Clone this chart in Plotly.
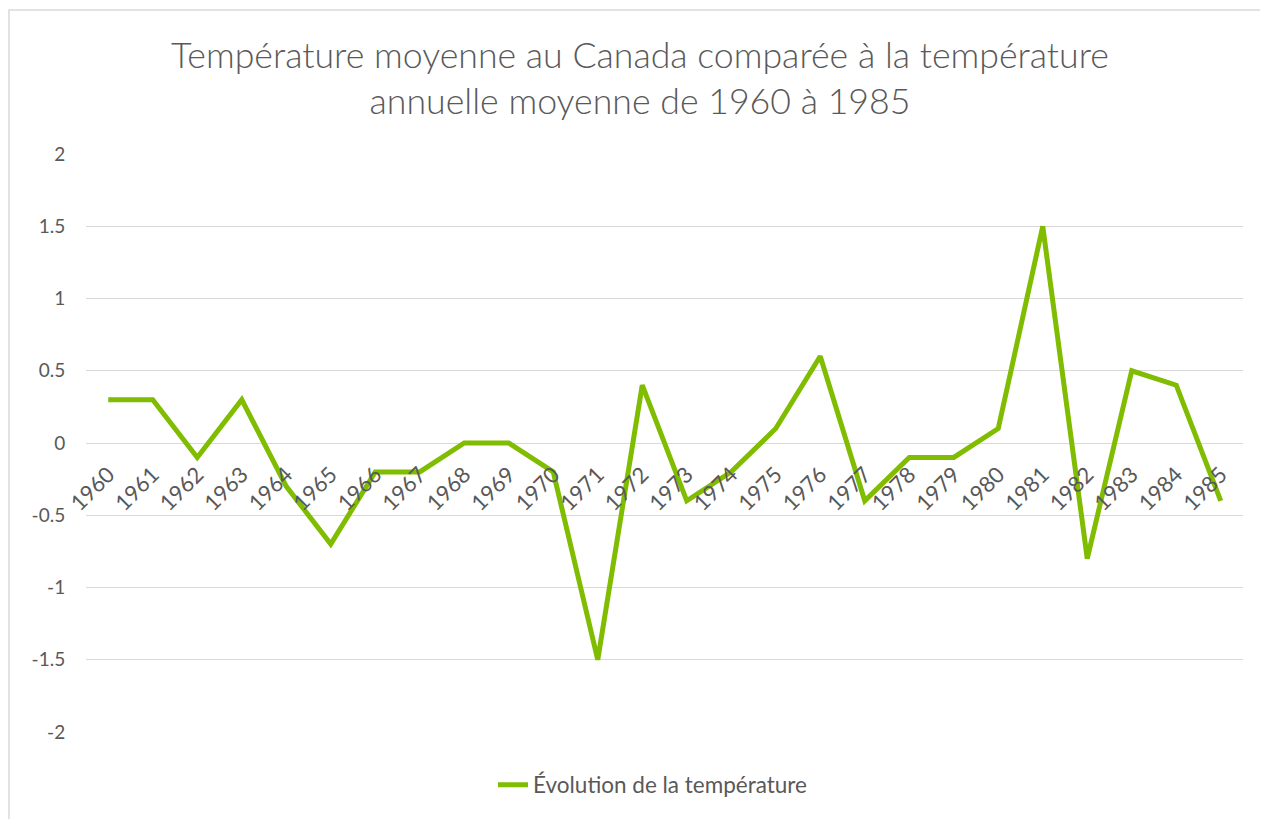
import plotly.graph_objects as go

years = [str(y) for y in range(1960, 1986)]
temps = [0.3, 0.3, -0.1, 0.3, -0.3, -0.7, -0.2, -0.2, 0.0, 0.0, -0.2, -1.5, 0.4,
         -0.4, -0.2, 0.1, 0.6, -0.4, -0.1, -0.1, 0.1, 1.5, -0.8, 0.5, 0.4, -0.4]
y_tickvals = [-2, -1.5, -1, -0.5, 0, 0.5, 1, 1.5, 2]
y_ticktext = ["-2", "-1.5", "-1", "-0.5", "0", "0.5", "1", "1.5", "2"]
series_name = "Évolution de la température"
title_text = "Température moyenne au Canada comparée à la température<br>annuelle moyenne de 1960 à 1985"

# page body adds an 8px offset; figure coordinates below are screen - 8
W, H = 1260, 811
L, T = 78, 146
plot_w, plot_h = 1157, 578
R = W - L - plot_w
B = H - T - plot_h
OFF = 8

text_color = "#595959"
grid_color = "#D9D9D9"
line_color = "#80BC00"
font_family = "Lato, 'Open Sans', sans-serif"

fig = go.Figure()
fig.add_trace(go.Scatter(
    x=years, y=temps, mode="lines", name=series_name,
    line=dict(color=line_color, width=5),
    showlegend=True,
))

fig.update_layout(
    width=W, height=H,
    margin=dict(l=L, r=R, t=T, b=B),
    paper_bgcolor="white", plot_bgcolor="white",
    font=dict(family=font_family, color=text_color, size=19),
    title=dict(
        text=title_text,
        x=(640 - OFF) / W, xanchor="center", xref="container",
        y=1 - 60 / H, yanchor="top", yref="container",
        font=dict(size=35.7, color=text_color, family=font_family, weight=300),
    ),
    legend=dict(
        orientation="h", x=(653 - OFF - L) / plot_w, xanchor="center",
        y=(T + plot_h - (785 - OFF)) / plot_h, yanchor="middle",
        font=dict(size=22.5, color=text_color),
        bgcolor="rgba(0,0,0,0)",
    ),
    xaxis=dict(
        type="category",
        categoryorder="array", categoryarray=years,
        range=[-0.5, len(years) - 0.5],
        anchor="free", position=0.5,
        showgrid=False, zeroline=False, showline=False,
        ticks="outside", ticklen=9, tickcolor="rgba(0,0,0,0)",
        tickangle=-45,
        tickfont=dict(size=22, color=text_color),
    ),
    yaxis=dict(
        range=[-2, 2],
        tickvals=y_tickvals, ticktext=y_ticktext,
        showgrid=True, gridcolor=grid_color, gridwidth=1.3,
        zeroline=False, showline=False,
        ticks="outside", ticklen=16, tickcolor="rgba(0,0,0,0)",
        tickfont=dict(size=19, color=text_color),
    ),
    shapes=[dict(
        type="rect", xref="paper", yref="paper",
        x0=(9 - OFF - L) / plot_w, x1=(W + 20 - L) / plot_w,
        y0=(T + plot_h - (H + 20)) / plot_h, y1=(T + plot_h - (10 - OFF)) / plot_h,
        line=dict(color=grid_color, width=1.5),
        fillcolor="rgba(0,0,0,0)", layer="below",
    )],
)

fig.write_html("out.html")
